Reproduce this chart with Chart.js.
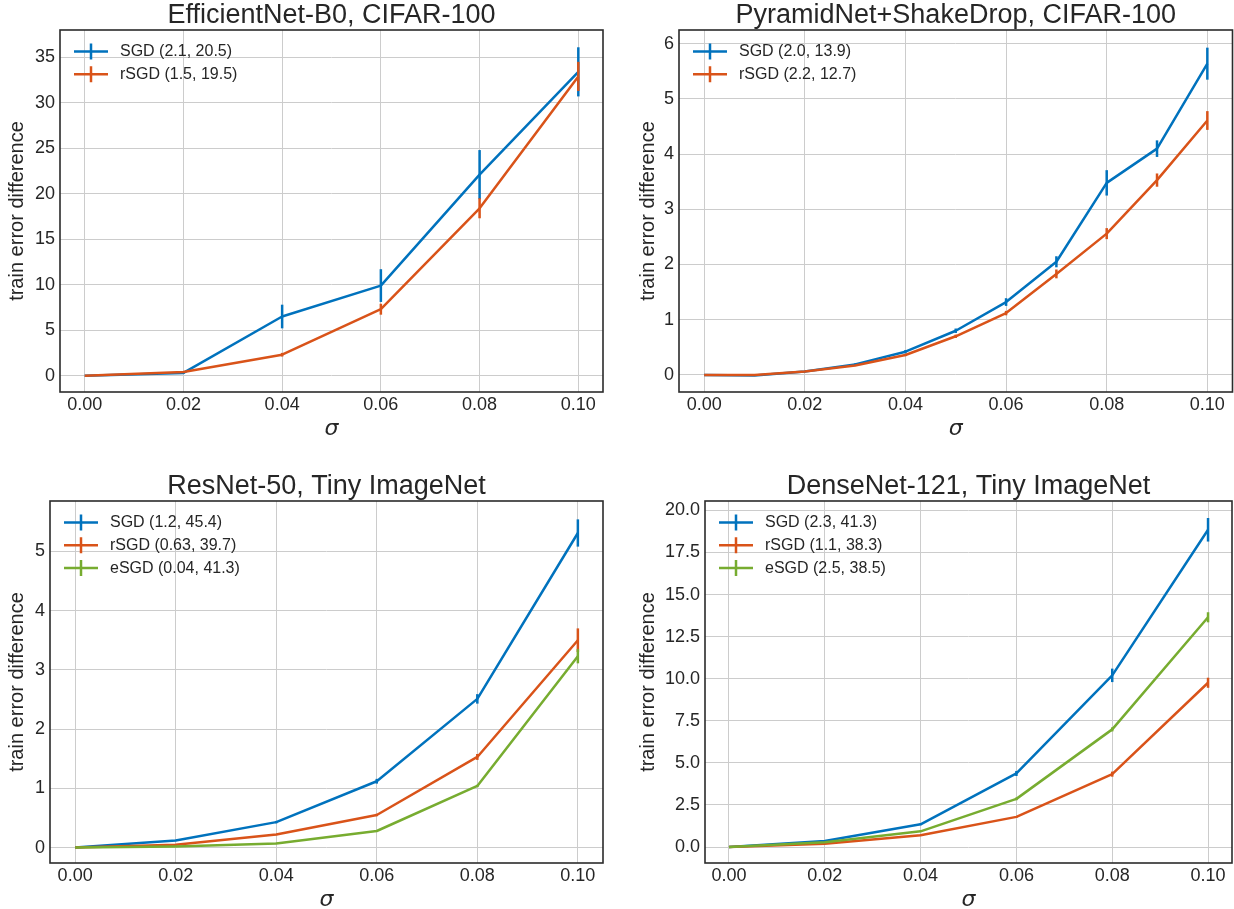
<!DOCTYPE html>
<html>
<head>
<meta charset="utf-8">
<script src="https://cdn.jsdelivr.net/npm/chart.js@4/dist/chart.umd.min.js"></script>
<style>
  html, body { margin: 0; padding: 0; background: #fff; overflow: hidden; }
  body { width: 1234px; height: 909px; position: relative; }
  canvas { position: absolute; }
</style>
</head>
<body>
<canvas id="c1" width="617" height="454" style="left:0;top:0"></canvas>
<canvas id="c2" width="617" height="454" style="left:617px;top:0"></canvas>
<canvas id="c3" width="617" height="454" style="left:0;top:471px"></canvas>
<canvas id="c4" width="617" height="454" style="left:617px;top:471px"></canvas>
<script>
// ── Data ────────────────────────────────────────────────────
const sigma     = [0, 0.02, 0.04, 0.06, 0.08, 0.10];
const sigmaFine = [0, 0.01, 0.02, 0.03, 0.04, 0.05, 0.06, 0.07, 0.08, 0.09, 0.10];
const xTicks    = [0, 0.02, 0.04, 0.06, 0.08, 0.10];

// EfficientNet-B0, CIFAR-100
const effSgd     = [0, 0.3, 6.5, 9.9, 22.1, 33.4];
const effSgdErr  = [0, 0.1, 1.3, 1.8, 2.7, 2.7];
const effRsgd    = [0, 0.4, 2.3, 7.3, 18.4, 32.9];
const effRsgdErr = [0, 0.1, 0.2, 0.6, 1.1, 1.6];
const effTicks   = [0, 5, 10, 15, 20, 25, 30, 35];

// PyramidNet+ShakeDrop, CIFAR-100
const pyrSgd     = [0, -0.01, 0.06, 0.19, 0.42, 0.80, 1.32, 2.05, 3.48, 4.10, 5.64];
const pyrSgdErr  = [0, 0, 0.01, 0.02, 0.03, 0.04, 0.07, 0.10, 0.23, 0.15, 0.29];
const pyrRsgd    = [0, 0, 0.06, 0.17, 0.36, 0.70, 1.12, 1.83, 2.56, 3.53, 4.61];
const pyrRsgdErr = [0, 0, 0.01, 0.01, 0.02, 0.03, 0.04, 0.08, 0.10, 0.12, 0.17];
const pyrTicks   = [0, 1, 2, 3, 4, 5, 6];

// ResNet-50, Tiny ImageNet
const resSgd     = [0, 0.12, 0.43, 1.12, 2.51, 5.31];
const resSgdErr  = [0, 0.01, 0.02, 0.04, 0.08, 0.23];
const resRsgd    = [0, 0.05, 0.22, 0.55, 1.53, 3.50];
const resRsgdErr = [0, 0.01, 0.01, 0.02, 0.05, 0.20];
const resEsgd    = [0, 0.02, 0.07, 0.28, 1.04, 3.23];
const resEsgdErr = [0, 0, 0.01, 0.01, 0.02, 0.12];
const resTicks   = [0, 1, 2, 3, 4, 5];

// DenseNet-121, Tiny ImageNet
const denSgd     = [0, 0.36, 1.35, 4.37, 10.2, 18.85];
const denSgdErr  = [0, 0.03, 0.05, 0.15, 0.4, 0.7];
const denRsgd    = [0, 0.2, 0.7, 1.79, 4.33, 9.76];
const denRsgdErr = [0, 0.02, 0.03, 0.05, 0.15, 0.3];
const denEsgd    = [0, 0.28, 0.93, 2.86, 6.99, 13.65];
const denEsgdErr = [0, 0.02, 0.03, 0.08, 0.12, 0.3];
const denTicks   = [0, 2.5, 5, 7.5, 10, 12.5, 15, 17.5, 20];

const BLUE = '#0072BD', ORANGE = '#D95319', GREEN = '#77AC30';
const INK = '#262626';
const FONT = "'Liberation Sans', Arial, sans-serif";

// ── Plugins ─────────────────────────────────────────────────
const errorBars = {
  id: 'errorBars',
  afterDatasetDraw(chart, args) {
    const ds = chart.data.datasets[args.index];
    const { x, y } = chart.scales;
    const ctx = chart.ctx;
    ctx.save();
    ctx.strokeStyle = ds.borderColor;
    ctx.lineWidth = 2.5;
    ds.data.forEach((p, j) => {
      const e = ds.err[j];
      if (!e) return;
      const px = x.getPixelForValue(p.x);
      ctx.beginPath();
      ctx.moveTo(px, y.getPixelForValue(p.y - e));
      ctx.lineTo(px, y.getPixelForValue(p.y + e));
      ctx.stroke();
    });
    ctx.restore();
  }
};

const frameLegend = {
  id: 'frameLegend',
  afterDraw(chart) {
    const { ctx, chartArea: a } = chart;
    ctx.save();
    ctx.strokeStyle = '#2b2b2b';
    ctx.lineWidth = 1.6;
    ctx.strokeRect(a.left, a.top, a.right - a.left, a.bottom - a.top);

    ctx.font = '16px ' + FONT;
    ctx.textBaseline = 'middle';
    ctx.fillStyle = INK;
    chart.data.datasets.forEach((ds, i) => {
      const yy = a.top + 21.5 + i * 22.8;
      ctx.strokeStyle = ds.borderColor;
      ctx.lineWidth = 2.5;
      ctx.beginPath();
      ctx.moveTo(a.left + 14, yy); ctx.lineTo(a.left + 48, yy);
      ctx.moveTo(a.left + 31, yy - 8); ctx.lineTo(a.left + 31, yy + 8);
      ctx.stroke();
      ctx.fillText(ds.label, a.left + 60, yy);
    });
    ctx.restore();
  }
};

// ── Chart builder ───────────────────────────────────────────
function plot(id, o) {
  const n = o.series.length;
  new Chart(document.getElementById(id), {
    type: 'line',
    data: {
      datasets: o.series.map((s, i) => ({
        label: s.label,
        data: o.x.map((x, j) => ({ x, y: s.y[j] })),
        err: s.err,
        borderColor: s.color,
        borderWidth: 2.5,
        borderJoinStyle: 'round',
        pointRadius: 0,
        tension: 0,
        order: n - i,
      }))
    },
    options: {
      responsive: false,
      animation: false,
      layout: { padding: { left: 0, right: o.padRight, top: 0, bottom: 0 } },
      plugins: {
        legend: { display: false },
        tooltip: { enabled: false },
        title: {
          display: true, text: o.title, color: INK, fullSize: false,
          font: { family: FONT, size: 27, weight: 'normal', lineHeight: 1 },
          padding: { top: 2, bottom: 1 }
        }
      },
      scales: {
        x: {
          type: 'linear', min: -0.005, max: 0.105,
          afterBuildTicks: s => { s.ticks = xTicks.map(v => ({ value: v })); },
          afterFit: s => { s.height = 62; },
          grid: { color: '#cccccc', lineWidth: 1, drawTicks: false },
          border: { display: false },
          ticks: { color: INK, padding: 2, font: { family: FONT, size: 18 }, callback: v => v.toFixed(2) },
          title: { display: true, text: 'σ', color: INK, font: { family: "'DejaVu Sans'", size: 22, style: 'italic' }, padding: { top: 0, bottom: 12 } }
        },
        y: {
          type: 'linear', min: o.yMin, max: o.yMax,
          afterBuildTicks: s => { s.ticks = o.yTicks.map(v => ({ value: v })); },
          afterFit: s => { s.width = o.axisW; },
          grid: { color: '#cccccc', lineWidth: 1, drawTicks: false },
          border: { display: false },
          ticks: { color: INK, padding: 5, font: { family: FONT, size: 18 }, callback: o.yFmt },
          title: { display: true, text: 'train error difference', color: INK, font: { family: FONT, size: 20 }, padding: { top: o.yTitlePad, bottom: 0 } }
        }
      }
    },
    plugins: [errorBars, frameLegend]
  });
}

const intFmt = v => String(v);

plot('c1', {
  title: 'EfficientNet-B0, CIFAR-100', x: sigma,
  series: [
    { label: 'SGD (2.1, 20.5)',  y: effSgd,  err: effSgdErr,  color: BLUE },
    { label: 'rSGD (1.5, 19.5)', y: effRsgd, err: effRsgdErr, color: ORANGE },
  ],
  yMin: -1.8, yMax: 38.0, yTicks: effTicks, yFmt: intFmt,
  axisW: 60, padRight: 14, yTitlePad: 5.5
});

plot('c2', {
  title: 'PyramidNet+ShakeDrop, CIFAR-100', x: sigmaFine,
  series: [
    { label: 'SGD (2.0, 13.9)',  y: pyrSgd,  err: pyrSgdErr,  color: BLUE },
    { label: 'rSGD (2.2, 12.7)', y: pyrRsgd, err: pyrRsgdErr, color: ORANGE },
  ],
  yMin: -0.31, yMax: 6.25, yTicks: pyrTicks, yFmt: intFmt,
  axisW: 62, padRight: 1.5, yTitlePad: 19
});

plot('c3', {
  title: 'ResNet-50, Tiny ImageNet', x: sigma,
  series: [
    { label: 'SGD (1.2, 45.4)',   y: resSgd,  err: resSgdErr,  color: BLUE },
    { label: 'rSGD (0.63, 39.7)', y: resRsgd, err: resRsgdErr, color: ORANGE },
    { label: 'eSGD (0.04, 41.3)', y: resEsgd, err: resEsgdErr, color: GREEN },
  ],
  yMin: -0.26, yMax: 5.85, yTicks: resTicks, yFmt: intFmt,
  axisW: 50, padRight: 14, yTitlePad: 5.5
});

plot('c4', {
  title: 'DenseNet-121, Tiny ImageNet', x: sigma,
  series: [
    { label: 'SGD (2.3, 41.3)',  y: denSgd,  err: denSgdErr,  color: BLUE },
    { label: 'rSGD (1.1, 38.3)', y: denRsgd, err: denRsgdErr, color: ORANGE },
    { label: 'eSGD (2.5, 38.5)', y: denEsgd, err: denEsgdErr, color: GREEN },
  ],
  yMin: -0.95, yMax: 20.56, yTicks: denTicks, yFmt: v => v.toFixed(1),
  axisW: 88, padRight: 2, yTitlePad: 19
});
</script>
</body>
</html>
